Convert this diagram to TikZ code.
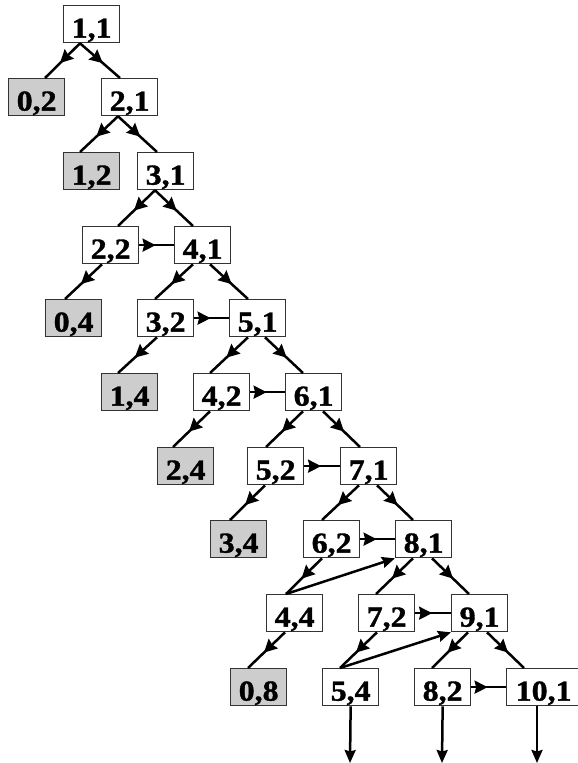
\documentclass[tikz,border=0pt]{standalone}
\usepackage{fontspec}
\setmainfont{Liberation Serif}[BoldFeatures={FakeBold=1.2,FakeStretch=1.1}]
\usetikzlibrary{arrows.meta,decorations.markings}
\definecolor{boxgray}{RGB}{205,205,205}
\tikzset{
  cell/.style={draw=black!80, line width=1.3pt, fill=white, minimum width=56pt,
    minimum height=37pt, inner xsep=0pt, inner ysep=5pt, text height=27pt,
    text depth=0pt, font=\fontsize{29}{29}\selectfont\bfseries, anchor=north west},
  gcell/.style={cell, fill=boxgray},
  midarrow/.style={line width=2.5pt, postaction={decorate},
    decoration={markings, mark=at position #1 with {\arrow{Stealth[length=13pt,width=13pt,inset=1.5pt]}}}},
  midarrow/.default=0.57,
  endarrow/.style={line width=2.5pt, -{Stealth[length=13pt,width=11pt,inset=1.5pt]}},
}
\begin{document}
\begin{tikzpicture}[x=1pt,y=-1pt]
\useasboundingbox (0,0) rectangle (578,763);
% nodes
\node[cell]  (n11) at (63,5) {1,1};
\node[gcell] (n02) at (8,78) {0,2};
\node[cell]  (n21) at (101,78) {2,1};
\node[gcell] (n12) at (63,152) {1,2};
\node[cell]  (n31) at (137,152) {3,1};
\node[cell]  (n22) at (82,226) {2,2};
\node[cell]  (n41) at (174,226) {4,1};
\node[gcell] (n04) at (45,299) {0,4};
\node[cell]  (n32) at (137,299) {3,2};
\node[cell]  (n51) at (229,299) {5,1};
\node[gcell] (n14) at (101,373) {1,4};
\node[cell]  (n42) at (193,373) {4,2};
\node[cell]  (n61) at (285,373) {6,1};
\node[gcell] (n24) at (157,447) {2,4};
\node[cell]  (n52) at (247,447) {5,2};
\node[cell]  (n71) at (340,447) {7,1};
\node[gcell] (n34) at (210,520) {3,4};
\node[cell]  (n62) at (303,520) {6,2};
\node[cell]  (n81) at (395,520) {8,1};
\node[cell]  (n44) at (266,594) {4,4};
\node[cell]  (n72) at (358,594) {7,2};
\node[cell]  (n91) at (451,594) {9,1};
\node[gcell] (n08) at (230,668) {0,8};
\node[cell]  (n54) at (322,668) {5,4};
\node[cell]  (n82) at (414,668) {8,2};
\node[cell, minimum width=74pt] (n101) at (506,668) {10,1};
\coordinate (d1) at (350,763);
\coordinate (d2) at (442,763);
\coordinate (d3) at (537,763);
% tree edges
\draw[midarrow] ([xshift=17pt]n11.south west) -- ([xshift=37pt]n02.north west);
\draw[midarrow] ([xshift=17pt]n11.south west) -- ([xshift=19pt]n21.north west);
\draw[midarrow] ([xshift=17pt]n21.south west) -- ([xshift=17pt]n12.north west);
\draw[midarrow] ([xshift=17pt]n21.south west) -- ([xshift=20pt]n31.north west);
\draw[midarrow] ([xshift=18pt]n31.south west) -- ([xshift=36pt]n22.north west);
\draw[midarrow] ([xshift=18pt]n31.south west) -- ([xshift=19pt]n41.north west);
\draw[midarrow] ([xshift=20pt]n22.south west) -- ([xshift=20pt]n04.north west);
\draw[midarrow] ([xshift=19pt]n41.south west) -- ([xshift=18pt]n32.north west);
\draw[midarrow] ([xshift=36pt]n41.south west) -- ([xshift=19pt]n51.north west);
\draw[midarrow] ([xshift=20pt]n32.south west) -- ([xshift=17pt]n14.north west);
\draw[midarrow] ([xshift=19pt]n51.south west) -- ([xshift=17pt]n42.north west);
\draw[midarrow] ([xshift=36pt]n51.south west) -- ([xshift=18pt]n61.north west);
\draw[midarrow] ([xshift=17pt]n42.south west) -- ([xshift=16pt]n24.north west);
\draw[midarrow] ([xshift=18pt]n61.south west) -- ([xshift=19pt]n52.north west);
\draw[midarrow] ([xshift=38pt]n61.south west) -- ([xshift=20pt]n71.north west);
\draw[midarrow] ([xshift=18pt]n52.south west) -- ([xshift=20pt]n34.north west);
\draw[midarrow] ([xshift=19pt]n71.south west) -- ([xshift=19pt]n62.north west);
\draw[midarrow] ([xshift=37pt]n71.south west) -- ([xshift=18pt]n81.north west);
\draw[midarrow] ([xshift=19pt]n62.south west) -- ([xshift=20pt]n44.north west);
\draw[midarrow] ([xshift=18pt]n81.south west) -- ([xshift=18pt]n72.north west);
\draw[midarrow] ([xshift=37pt]n81.south west) -- ([xshift=18pt]n91.north west);
\draw[midarrow] ([xshift=19pt]n44.south west) -- ([xshift=18pt]n08.north west);
\draw[midarrow] ([xshift=19pt]n72.south west) -- ([xshift=18pt]n54.north west);
\draw[midarrow] ([xshift=17pt]n91.south west) -- ([xshift=18pt]n82.north west);
\draw[midarrow] ([xshift=36pt]n91.south west) -- ([xshift=18pt]n101.north west);
% long edges
\draw[endarrow] ([xshift=20pt]n44.north west) -- (n81.south west);
\draw[endarrow] ([xshift=18pt]n54.north west) -- (n91.south west);
% horizontal edges
\draw[midarrow=0.47] (n22.east) -- (n41.west);
\draw[midarrow=0.47] (n32.east) -- (n51.west);
\draw[midarrow=0.47] (n42.east) -- (n61.west);
\draw[midarrow=0.47] (n52.east) -- (n71.west);
\draw[midarrow=0.47] (n62.east) -- (n81.west);
\draw[midarrow=0.47] (n72.east) -- (n91.west);
\draw[midarrow=0.47] (n82.east) -- (n101.west);
% down edges
\draw[endarrow] (n54.south) -- (d1);
\draw[endarrow] (n82.south) -- (d2);
\draw[endarrow] ([xshift=31pt]n101.south west) -- (d3);
\end{tikzpicture}
\end{document}
